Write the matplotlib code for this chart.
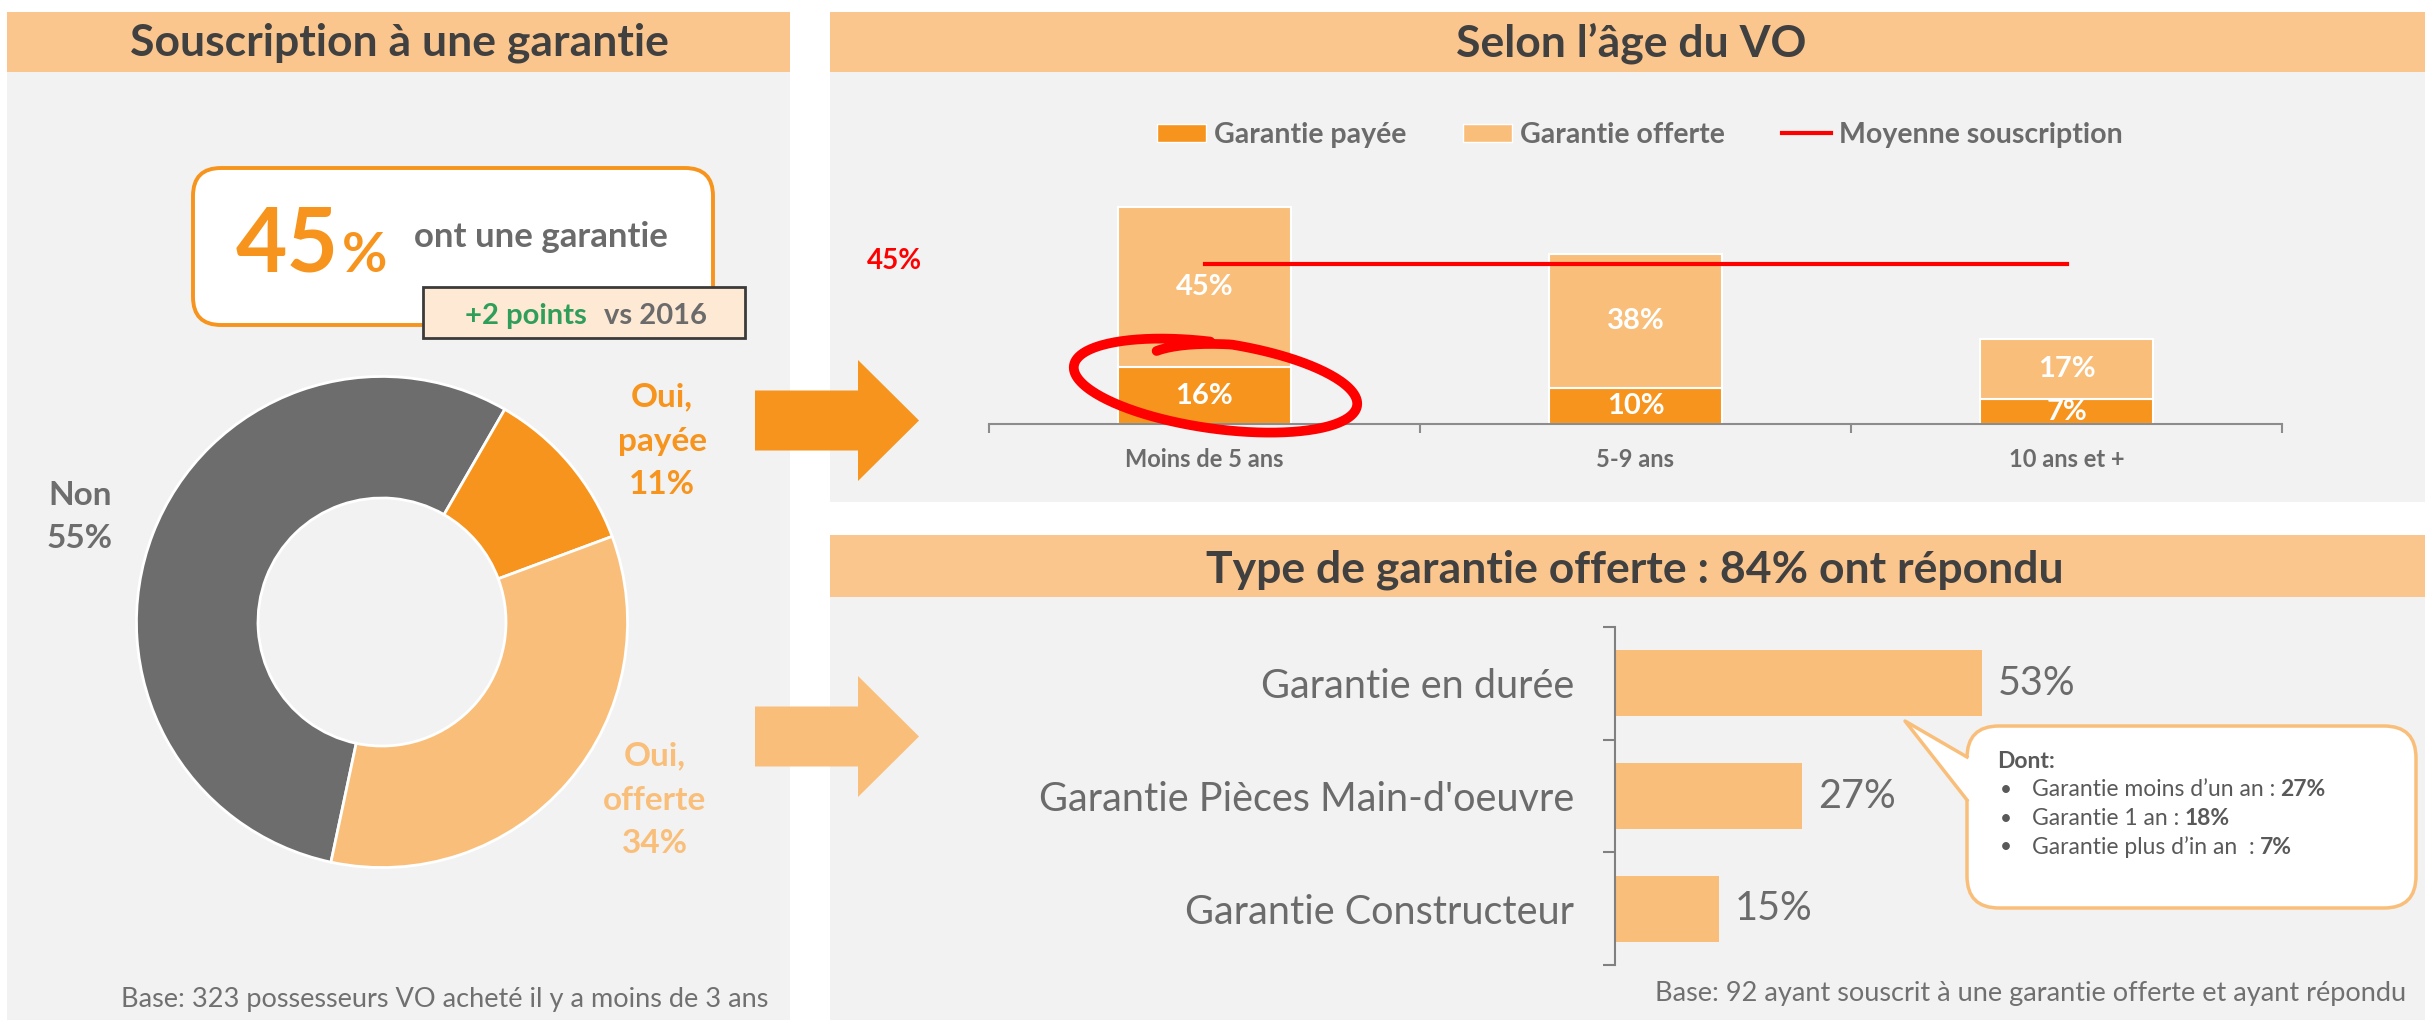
import numpy as np
import matplotlib
matplotlib.use("Agg")
import matplotlib.pyplot as plt
from matplotlib.patches import Rectangle, FancyBboxPatch, Polygon, Patch
from matplotlib.lines import Line2D
from matplotlib.text import Annotation
from matplotlib.transforms import Affine2D

# --- data ---
donut_labels = ["Non", "Oui,\npayée", "Oui,\nofferte"]
donut_values = [55, 11, 34]
total_garantie = 45
evolution = "+2 points"
annee_ref = "vs 2016"

ages = ["Moins de 5 ans", "5-9 ans", "10 ans et +"]
payee = [16, 10, 7]
offerte = [45, 38, 17]
moyenne = 45

types = ["Garantie en durée", "Garantie Pièces Main-d'oeuvre", "Garantie Constructeur"]
types_pct = [53, 27, 15]

dont_labels = ["Garantie moins d’un an :", "Garantie 1 an :", "Garantie plus d’in an  :"]
dont_pct = [27, 18, 7]

base_gauche = "Base: 323 possesseurs VO acheté il y a moins de 3 ans"
base_droite = "Base: 92 ayant souscrit à une garantie offerte et ayant répondu"

# --- style ---
PEACH = "#fbc68e"
BG = "#f1f2f1"
ORANGE = "#f7941d"
LIGHT = "#f9bf7a"
DGRAY = "#6d6d6e"
TITLE = "#404040"
LABEL = "#6b6b6b"
RED = "#ff0000"

plt.rcParams["font.family"] = ["Lato", "DejaVu Sans"]

W, H, DPI = 2425, 1022, 100
fig = plt.figure(figsize=(W / DPI, H / DPI), dpi=DPI)
fig.patch.set_facecolor("white")

# pixel coords with origin top-left
T = Affine2D().scale(1, -1).translate(0, H).scale(1.0 / DPI) + fig.dpi_scale_trans


def add_ax(x0, y0, x1, y1):
	ax = fig.add_axes([x0 / W, 1 - y1 / H, (x1 - x0) / W, (y1 - y0) / H])
	ax.patch.set_visible(False)
	return ax


def box(x0, y0, x1, y1, color, z=-5):
	fig.add_artist(Rectangle((x0, y0), x1 - x0, y1 - y0, transform=T,
		facecolor=color, edgecolor="none", zorder=z))


def text(x, y, s, **kw):
	kw.setdefault("ha", "center")
	kw.setdefault("va", "center")
	return fig.text(x, y, s, transform=T, **kw)


def after(prev, s, gap, **kw):
	# text placed right after another text, same baseline
	a = Annotation(s, xy=(1, 0), xycoords=prev, xytext=(gap, 0), textcoords="offset pixels",
		ha="left", va="bottom", annotation_clip=False, **kw)
	fig.add_artist(a)
	return a


def arrow(yc, color):
	pts = [(755, yc - 30), (858, yc - 30), (858, yc - 60.5), (919, yc),
		(858, yc + 60.5), (858, yc + 30), (755, yc + 30)]
	fig.add_artist(Polygon(pts, closed=True, transform=T, facecolor=color,
		edgecolor="none", zorder=3))


# panels
box(7, 72, 790, 1020, BG)
box(830, 72, 2425, 502, BG)
box(830, 597, 2425, 1020, BG)
box(7, 12, 790, 72, PEACH)
box(830, 12, 2425, 72, PEACH)
box(830, 535, 2425, 597, PEACH)

text(399, 43, "Souscription à une garantie", fontsize=32, weight="bold", color=TITLE)
text(1631, 43, "Selon l’âge du VO", fontsize=32, weight="bold", color=TITLE)
text(1635, 570, "Type de garantie offerte : 84% ont répondu", fontsize=32, weight="bold", color=TITLE)

arrow(420.5, ORANGE)
arrow(736.5, LIGHT)

# --- left: key figure ---
fig.add_artist(FancyBboxPatch((193, 168), 520, 157, boxstyle="round,pad=0,rounding_size=28",
	transform=T, facecolor="white", edgecolor=ORANGE, linewidth=2.8, zorder=2))
text(236, 272, str(total_garantie), ha="left", va="baseline", fontsize=64,
	weight="bold", color=ORANGE, zorder=3)
text(342, 272, "%", ha="left", va="baseline", fontsize=40, weight="bold", color=ORANGE, zorder=3)
text(414, 247, "ont une garantie", ha="left", va="baseline", fontsize=25,
	weight="bold", color=LABEL, zorder=3)
fig.add_artist(Rectangle((423, 287), 322, 51, transform=T, facecolor="#fde9d4",
	edgecolor="#3b3b3b", linewidth=2, zorder=4))
t_ev = text(465, 324, evolution, ha="left", va="baseline", fontsize=21,
	weight="bold", color="#2f9e5a", zorder=5)
after(t_ev, annee_ref, 17, fontsize=21, weight="bold", color=LABEL, zorder=5)

# --- donut ---
ax_d = add_ax(382 - 248, 622 - 248, 382 + 248, 622 + 248)
ax_d.pie(donut_values, colors=[DGRAY, ORANGE, LIGHT], startangle=258, counterclock=False,
	radius=1, wedgeprops=dict(width=0.495, edgecolor="white", linewidth=2))
ax_d.set_xlim(-1.01, 1.01)
ax_d.set_ylim(-1.01, 1.01)
ax_d.set_aspect("equal")
ax_d.axis("off")

for lab, val, col, pos in zip(donut_labels, donut_values, [DGRAY, ORANGE, LIGHT],
		[(80, 517), (662, 441), (655, 800)]):
	text(pos[0], pos[1], f"{lab}\n{val}%", fontsize=24, weight="bold", color=col,
		multialignment="center", linespacing=1.62)

text(768, 999, base_gauche, ha="right", fontsize=19.5, color="#707070")

# --- top right: stacked bars by age ---
px_per_pct = 3.55
ax_b = add_ax(989, 190, 2282, 424)
x = np.arange(len(ages))
ax_b.bar(x, payee, 0.4, color=ORANGE, edgecolor="white", linewidth=1.5)
ax_b.bar(x, offerte, 0.4, bottom=payee, color=LIGHT, edgecolor="white", linewidth=1.5)
for i in range(len(ages)):
	ax_b.text(x[i], payee[i] / 2, f"{payee[i]}%", ha="center", va="center",
		fontsize=21, weight="bold", color="white")
	ax_b.text(x[i], payee[i] + offerte[i] / 2, f"{offerte[i]}%", ha="center", va="center",
		fontsize=21, weight="bold", color="white")
ax_b.plot([x[0], x[-1]], [moyenne, moyenne], color=RED, linewidth=3)
ax_b.annotate(f"{moyenne}%", xy=(-0.5, moyenne), xytext=(-95, 3), textcoords="offset pixels",
	ha="center", va="center", fontsize=20, weight="bold", color=RED, annotation_clip=False)
ax_b.set_xlim(-0.5, len(ages) - 0.5)
ax_b.set_ylim(0, 234 / px_per_pct)
for s in ["top", "left", "right"]:
	ax_b.spines[s].set_visible(False)
ax_b.spines["bottom"].set_color("#8c8c8c")
ax_b.spines["bottom"].set_linewidth(1.5)
ax_b.set_yticks([])
ax_b.set_xticks(x)
ax_b.set_xticklabels(ages, fontsize=17, weight="bold", color=LABEL)
ax_b.tick_params(axis="x", which="major", length=0, pad=17)
ax_b.set_xticks(np.arange(len(ages) + 1) - 0.5, minor=True)
ax_b.tick_params(axis="x", which="minor", length=6.5, width=1.5, color="#8c8c8c")

handles = [Patch(facecolor=ORANGE, edgecolor="white"), Patch(facecolor=LIGHT, edgecolor="white"),
	Line2D([0], [0], color=RED, linewidth=3)]
ax_b.legend(handles, ["Garantie payée", "Garantie offerte", "Moyenne souscription"],
	ncol=3, loc="center", bbox_to_anchor=(1640 / W, 1 - 135 / H), bbox_transform=fig.transFigure,
	frameon=False, prop={"size": 20.5, "weight": "bold"}, labelcolor=LABEL,
	handlelength=1.7, handleheight=0.6, handletextpad=0.3, columnspacing=2.0)

# hand-drawn red ring around the first paid segment
cx, cy = ax_b.transData.transform((x[0], payee[0] / 2))
cx, cy = cx + 11, (H - cy) - 10
t0 = -2.2
tt = np.linspace(t0, t0 + 2 * np.pi + 0.55, 300)
rr = 1 - 0.25 * np.clip(1 - (tt - t0) / 0.7, 0, 1)
ex, ey = 143 * rr * np.cos(tt), 43 * rr * np.sin(tt)
phi = np.radians(8)
rx = cx + ex * np.cos(phi) - ey * np.sin(phi)
ry = cy + ex * np.sin(phi) + ey * np.cos(phi)
fig.add_artist(Line2D(rx, ry, transform=T, color=RED, linewidth=7,
	solid_capstyle="round", solid_joinstyle="round", zorder=6))

# --- bottom right: type of offered warranty ---
px_h = 6.93
ax_h = add_ax(1615, 627, 1615 + px_h * 60, 965)
y = np.arange(len(types))
ax_h.barh(y, types_pct, height=0.585, color=LIGHT)
for i, v in enumerate(types_pct):
	ax_h.annotate(f"{v}%", xy=(v, y[i]), xytext=(16, 0), textcoords="offset pixels",
		ha="left", va="center", fontsize=28.5, color=LABEL)
ax_h.set_xlim(0, 60)
ax_h.set_ylim(len(types) - 0.5, -0.5)
for s in ["top", "bottom", "right"]:
	ax_h.spines[s].set_visible(False)
ax_h.spines["left"].set_color("#808080")
ax_h.spines["left"].set_linewidth(1.5)
ax_h.set_xticks([])
ax_h.set_yticks(y)
ax_h.set_yticklabels(types, fontsize=28.5, color=LABEL)
ax_h.tick_params(axis="y", which="major", length=0, pad=29.5)
ax_h.set_yticks(np.arange(len(types) + 1) - 0.5, minor=True)
ax_h.tick_params(axis="y", which="minor", length=8.6, width=1.5, color="#808080")

# callout
fig.add_artist(FancyBboxPatch((1967, 726), 449, 182, boxstyle="round,pad=0,rounding_size=32",
	transform=T, facecolor="white", edgecolor=LIGHT, linewidth=2.5, zorder=2))
fig.add_artist(Polygon([(1905, 721), (1967, 757), (1971, 758), (1971, 799), (1967, 800)],
	closed=True, transform=T, facecolor="white", edgecolor="none", zorder=3))
fig.add_artist(Line2D([1967, 1905, 1967], [757, 721, 800], transform=T, color=LIGHT,
	linewidth=2.5, zorder=4))
text(1997, 762, "Dont:", ha="left", fontsize=16.5, weight="bold", color="#595959", zorder=5)
for i, (lab, p) in enumerate(zip(dont_labels, dont_pct)):
	yy = 790 + i * 28.5
	text(2000, yy, "•", ha="left", fontsize=15, color="#595959", zorder=5)
	t = text(2032, yy, lab, ha="left", fontsize=16.5, color="#595959", zorder=5)
	after(t, f"{p}%", 5, fontsize=16.5, weight="bold", color="#595959", zorder=5)

text(2406, 993, base_droite, ha="right", fontsize=19.5, color="#707070")

fig.savefig("out.png", dpi=DPI)
